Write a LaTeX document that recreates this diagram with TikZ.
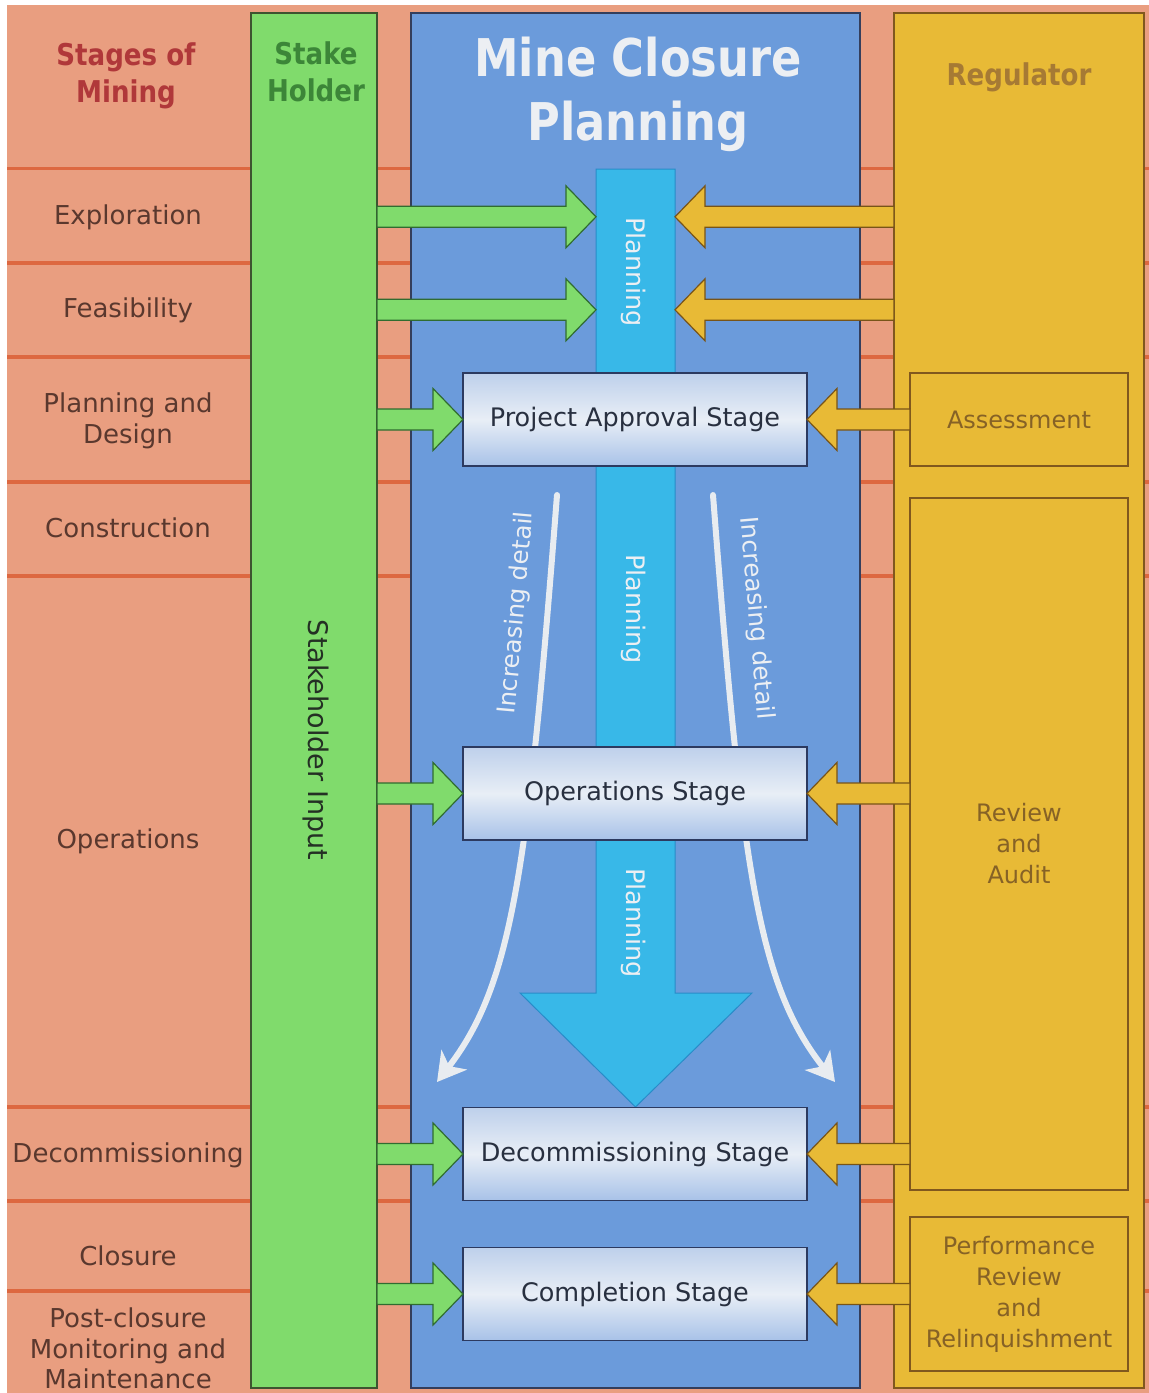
\documentclass[tikz,border=0pt]{standalone}
\usepackage{fontspec}
\usepackage{graphicx}
\setmainfont{DejaVu Sans}
\usetikzlibrary{arrows.meta,calc}

% palette
\definecolor{bgsalmon}{RGB}{233,158,128}
\definecolor{rowline}{RGB}{221,104,64}
\definecolor{stakefill}{RGB}{128,219,108}
\definecolor{stakeedge}{RGB}{62,84,48}
\definecolor{planfill}{RGB}{107,155,219}
\definecolor{planedge}{RGB}{52,62,92}
\definecolor{regfill}{RGB}{232,186,54}
\definecolor{regedge}{RGB}{128,88,30}
\definecolor{barfill}{RGB}{56,184,232}
\definecolor{baredge}{RGB}{40,140,200}
\definecolor{stagetop}{RGB}{190,208,235}
\definecolor{stagemid}{RGB}{232,238,246}
\definecolor{stagebot}{RGB}{168,194,232}
\definecolor{stageedge}{RGB}{44,58,96}
\definecolor{stagetext}{RGB}{40,48,64}
\definecolor{greenarrowedge}{RGB}{48,108,48}
\definecolor{yellowarrowedge}{RGB}{120,84,24}
\definecolor{leftlabel}{RGB}{90,56,46}
\definecolor{minetitle}{RGB}{176,56,58}
\definecolor{staketitle}{RGB}{60,134,56}
\definecolor{regtitle}{RGB}{166,122,52}
\definecolor{regtext}{RGB}{134,98,38}
\definecolor{paletext}{RGB}{236,239,243}
\definecolor{curvewhite}{RGB}{232,236,240}
\definecolor{stakeinput}{RGB}{36,48,36}

% horizontally condensed text
\newcommand{\hsqueeze}[2][0.87]{\scalebox{#1}[1]{#2}}

\begin{document}
\begin{tikzpicture}[x=1pt,y=-1pt,
  every node/.style={inner sep=0pt,outer sep=0pt},
  lane/.style={rectangle,line width=1.5pt,minimum height=1375pt},
  subbox/.style={rectangle,draw=regedge,line width=1.3pt,fill=regfill,
    minimum width=218pt,text=regtext,align=center,
    font=\fontsize{24}{31}\selectfont},
  stagebox/.style={rectangle,draw=stageedge,line width=1.2pt,
    top color=stagetop,bottom color=stagebot,middle color=stagemid,
    minimum width=344pt,minimum height=93pt,text=stagetext,
    font=\fontsize{25.5}{31}\selectfont},
  rowlabel/.style={text=leftlabel,align=center,font=\fontsize{26}{31}\selectfont},
  headline/.style={align=center,font=\fontsize{30}{37}\selectfont\bfseries},
  flowtext/.style={text=paletext,font=\fontsize{25.5}{30}\selectfont},
  detailtext/.style={text=paletext,font=\fontsize{24.5}{30}\selectfont},
  detailcurve/.style={draw=curvewhite,line width=6pt,line cap=round,
    -{Stealth[length=28pt,width=32pt,inset=8pt]}},
  blockarrow/.style={line width=1.2pt,line join=miter,
    to path={
      let \p1=(\tikztostart), \p2=(\tikztotarget), \n1={sign(\x2-\x1)} in
      (\x1,\y1+10.5pt) -- (\x2-\n1*30pt,\y1+10.5pt) -- (\x2-\n1*30pt,\y1+31pt)
      -- (\x2,\y1) -- (\x2-\n1*30pt,\y1-31pt) -- (\x2-\n1*30pt,\y1-10.5pt)
      -- (\x1,\y1-10.5pt) -- cycle
    }},
  greenarrow/.style={blockarrow,fill=stakefill,draw=greenarrowedge},
  yellowarrow/.style={blockarrow,fill=regfill,draw=yellowarrowedge},
]

\useasboundingbox (0,0) rectangle (1149,1393);
\fill[white] (0,0) rectangle (1149,1393);
\fill[bgsalmon] (7,5) rectangle (1149,1393);

% row dividers of the mining stages
\foreach \yy in {168.5,263,357,482,576,1107,1201,1291}
  \draw[rowline,line width=3.5pt] (7,\yy) -- (1149,\yy);

% the three lanes
\node[lane,fill=stakefill,draw=stakeedge,minimum width=126pt] (stake) at (314,700.5) {};
\node[lane,fill=planfill,draw=planedge,minimum width=449pt] (plan) at (635.5,700.5) {};
\node[lane,fill=regfill,draw=regedge,minimum width=250pt] (reg) at (1019,700.5) {};

% regulator activities
\node[subbox,minimum height=93pt] (assess) at (1019,419.5) {Assessment};
\node[subbox,minimum height=692pt] (review) at (1019,844) {Review\\and\\Audit};
\node[subbox,minimum height=154pt] (perf) at (1019,1294)
  {Performance\\Review\\and\\Relinquishment};

% planning flow: shaft and head
\node[rectangle,minimum width=79pt,minimum height=824pt] (bar) at (635.5,581) {};
\draw[draw=baredge,fill=barfill,line width=1pt,line join=miter]
  (bar.north west) -- (bar.north east) -- (bar.south east) -- ++(77,0)
  -- ($(bar.south)+(0,114)$) -- ($(bar.south west)+(-76,0)$)
  -- (bar.south west) -- cycle;

% increasing-detail curves
\coordinate (lfrom) at (557,495);
\coordinate (lto) at (437,1082);
\coordinate (rfrom) at (713,495);
\coordinate (rto) at (835,1082);
\draw[detailcurve] (lfrom) .. controls (528,870) and (512,985) .. (lto);
\draw[detailcurve] (rfrom) .. controls (742,870) and (758,985) .. (rto);

% closure planning stages
\node[stagebox] (pa) at (635,419.5) {Project Approval Stage};
\node[stagebox] (ops) at (635,793.5) {Operations Stage};
\node[stagebox] (dec) at (635,1154) {Decommissioning Stage};
\node[stagebox] (comp) at (635,1294) {Completion Stage};

% stages of mining
\node[rowlabel,anchor=base] (lexp) at (128,224) {Exploration};
\node[rowlabel,anchor=base] (lfeas) at (128,317) {Feasibility};
\node[rowlabel] (lplan) at (128,420.6) {Planning and\\Design};
\node[rowlabel,anchor=base] (lcons) at (128,537) {Construction};
\node[rowlabel,anchor=base] (lops) at (128,848) {Operations};
\node[rowlabel,anchor=base] (ldec) at (128,1162) {Decommissioning};
\node[rowlabel,anchor=base] (lclos) at (128,1265) {Closure};
\node[rowlabel,font=\fontsize{26}{30.5}\selectfont] (lpost) at (128,1348.6)
  {Post-closure\\Monitoring and\\Maintenance};

% headings
\node[headline,text=minetitle] (tstages) at (126,75.5) {\hsqueeze{Stages of}\\\hsqueeze{Mining}};
\node[headline,text=staketitle] (tstake) at (316,72) {\hsqueeze{Stake}\\\hsqueeze{Holder}};
\node[headline,text=regtitle] (treg) at (1019,77) {\hsqueeze{Regulator}};
\node[align=center,text=paletext,font=\fontsize{52}{64}\selectfont\bfseries] (tmine)
  at (638,94.4) {\hsqueeze[0.86]{Mine Closure}\\\hsqueeze[0.86]{Planning}};

% stakeholder input arrows
\draw[greenarrow] (stake.east |- lexp) to (bar.west |- lexp);
\draw[greenarrow] (stake.east |- lfeas) to (bar.west |- lfeas);
\draw[greenarrow] (stake.east |- pa.west) to (pa.west);
\draw[greenarrow] (stake.east |- ops.west) to (ops.west);
\draw[greenarrow] (stake.east |- dec.west) to (dec.west);
\draw[greenarrow] (stake.east |- comp.west) to (comp.west);

% regulator arrows
\draw[yellowarrow] (reg.west |- lexp) to (bar.east |- lexp);
\draw[yellowarrow] (reg.west |- lfeas) to (bar.east |- lfeas);
\draw[yellowarrow] (assess.west) to (pa.east);
\draw[yellowarrow] (review.west |- ops.east) to (ops.east);
\draw[yellowarrow] (review.west |- dec.east) to (dec.east);
\draw[yellowarrow] (perf.west |- comp.east) to (comp.east);

% vertical labels
\node[text=stakeinput,rotate=-90,font=\fontsize{27}{32}\selectfont] (sinput)
  at (316,740) {Stakeholder Input};
\node[flowtext,rotate=-90] (plan1) at (634,272) {Planning};
\node[flowtext,rotate=-90] (plan2) at (634,609) {Planning};
\node[flowtext,rotate=-90] (plan3) at (634,923) {Planning};
\node[detailtext,rotate=85] (ldetail) at (517,613) {Increasing detail};
\node[detailtext,rotate=-85] (rdetail) at (756,618) {Increasing detail};

\end{tikzpicture}
\end{document}
